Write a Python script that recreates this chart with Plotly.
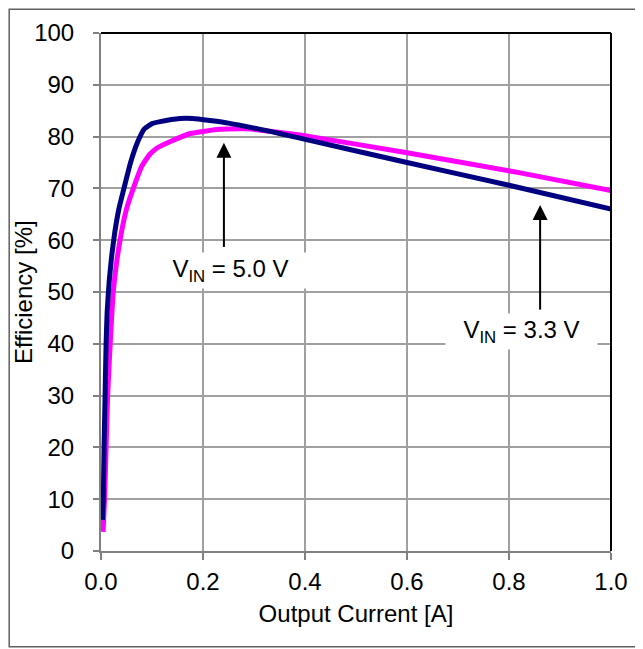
import plotly.graph_objects as go

# ---- data ----
current_33 = [0.003, 0.0045, 0.006, 0.008, 0.010, 0.012, 0.016, 0.021, 0.027, 0.035,
              0.045, 0.058, 0.072, 0.085, 0.100, 0.116, 0.155, 0.180, 0.250, 0.350,
              0.390, 0.600, 0.800, 1.000]
eff_33 = [6, 10, 20, 30, 40, 46, 52, 57, 61.5, 66,
          70, 75, 79, 81.5, 82.5, 82.9, 83.5, 83.5, 82.6, 80.6,
          79.7, 75.0, 70.6, 66.0]

current_50 = [0.004, 0.007, 0.010, 0.013, 0.018, 0.024, 0.031, 0.040, 0.050, 0.067,
              0.080, 0.095, 0.110, 0.135, 0.175, 0.233, 0.286, 0.351, 0.390, 0.600,
              0.822, 1.000]
eff_50 = [3.7, 10, 20, 30, 40, 50, 56, 61.5, 66, 71,
          74.3, 76.5, 77.8, 79.0, 80.6, 81.4, 81.5, 80.8, 80.3, 76.9,
          73.0, 69.6]

x_ticks = [0.0, 0.2, 0.4, 0.6, 0.8, 1.0]
x_tick_text = ["0.0", "0.2", "0.4", "0.6", "0.8", "1.0"]
y_ticks = [0, 10, 20, 30, 40, 50, 60, 70, 80, 90, 100]

label_text = ["V<sub>IN</sub> = 5.0 V", "V<sub>IN</sub> = 3.3 V"]
label_x = [0.253, 0.825]
label_y = [54.2, 42.4]
arrow_x = [0.241, 0.861]
arrow_tip_y = [78.8, 66.8]
arrow_tail_y = [58.7, 46.6]

FONT = "Liberation Sans, Arial, sans-serif"
FS = 24

fig = go.Figure()
fig.add_trace(go.Scatter(x=current_50, y=eff_50, mode="lines",
                         line=dict(color="#FF00FF", width=5, shape="spline", smoothing=0.4),
                         name="VIN = 5.0 V", hoverinfo="skip"))
fig.add_trace(go.Scatter(x=current_33, y=eff_33, mode="lines",
                         line=dict(color="#000080", width=5, shape="spline", smoothing=0.4),
                         name="VIN = 3.3 V", hoverinfo="skip"))

# arrow shafts (from tail up to just under the tip) and arrow heads
shaft_x, shaft_y = [], []
for ax_, tip, tail in zip(arrow_x, arrow_tip_y, arrow_tail_y):
    shaft_x += [ax_, ax_, None]
    shaft_y += [tail, tip - 2, None]
fig.add_trace(go.Scatter(x=shaft_x, y=shaft_y, mode="lines",
                         line=dict(color="black", width=2), hoverinfo="skip"))
fig.add_trace(go.Scatter(x=arrow_x, y=arrow_tip_y, mode="markers",
                         marker=dict(symbol="arrow-up", size=15, color="black",
                                     line=dict(width=0)),
                         hoverinfo="skip"))

annotations = []
for t, lx, ly in zip(label_text, label_x, label_y):
    annotations.append(dict(x=lx, y=ly, xref="x", yref="y", text=t, showarrow=False,
                            bgcolor="white", width=149, height=33,
                            xanchor="center", yanchor="middle",
                            font=dict(family=FONT, size=FS, color="black")))
# y-axis title placed as rotated text
annotations.append(dict(x=-0.153, y=0.5, xref="paper", yref="paper",
                        text="Efficiency [%]", textangle=-90, showarrow=False,
                        xanchor="center", yanchor="middle",
                        font=dict(family=FONT, size=FS, color="black")))

shapes = [
    dict(type="rect", xref="paper", yref="paper", x0=-0.180, x1=1.051, y0=-0.185, y1=1.046,
         line=dict(color="#606060", width=1.5), layer="below"),
    dict(type="line", xref="paper", yref="paper", x0=0, x1=1, y0=1, y1=1,
         line=dict(color="black", width=2)),
    dict(type="line", xref="paper", yref="paper", x0=1, x1=1, y0=0, y1=1,
         line=dict(color="black", width=2)),
]

# page body has an 8 px margin, so the figure is 8 px smaller and offset
fig.update_layout(
    width=635, height=641, autosize=False,
    margin=dict(l=93, r=32, t=25, b=98),
    paper_bgcolor="white", plot_bgcolor="white",
    showlegend=False,
    font=dict(family=FONT, size=FS, color="black"),
    annotations=annotations, shapes=shapes,
    xaxis=dict(range=[0, 1], tickvals=x_ticks, ticktext=x_tick_text,
               automargin=False,
               showgrid=True, gridcolor="#a0a0a0", gridwidth=1.5,
               showline=True, linecolor="#808080", linewidth=2, zeroline=False,
               ticks="outside", ticklen=7, tickwidth=1.5, tickcolor="#808080",
               ticklabelstandoff=1,
               tickfont=dict(family=FONT, size=FS, color="black"),
               title=dict(text="Output Current [A]", standoff=11,
                          font=dict(family=FONT, size=FS, color="black"))),
    yaxis=dict(range=[0, 100], tickvals=y_ticks,
               automargin=False,
               showgrid=True, gridcolor="#a0a0a0", gridwidth=1.5,
               showline=True, linecolor="#808080", linewidth=2, zeroline=False,
               ticks="outside", ticklen=6, tickwidth=1.5, tickcolor="#808080",
               ticklabelstandoff=14,
               tickfont=dict(family=FONT, size=FS, color="black")),
)

fig.write_html("out.html")
